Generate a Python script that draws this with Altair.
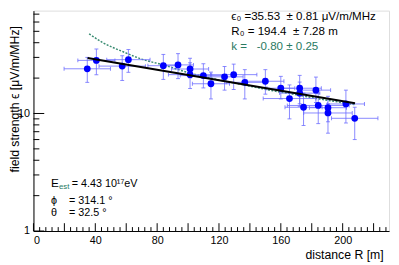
import altair as alt
import pandas as pd

# ---- data ----
R_m = [34.8, 40.7, 57.4, 61.4, 84.0, 93.5, 101.3, 101.3, 109.9, 114.8,
       123.6, 129.5, 136.7, 150.0, 160.0, 165.6, 172.2, 172.2, 174.7, 182.7,
       184.2, 190.5, 190.5, 202.1, 207.8]
eps = [24.0, 28.3, 25.3, 28.7, 25.5, 25.9, 23.9, 21.4, 21.0, 17.9,
       20.5, 21.4, 18.4, 18.8, 16.4, 13.4, 16.4, 14.9, 11.3, 15.8,
       11.7, 11.2, 10.1, 12.05, 9.1]
R_err = [15, 12, 15, 14, 10, 10, 12, 14, 15, 12,
         12, 15, 12, 12, 9, 17, 14, 13, 12, 9.5,
         20, 12, 15.7, 12, 15]
eps_lo = [18.4, 21.4, 19.1, 22.4, 19.5, 19.8, 20.1, 16.3, 16.5, 13.3,
          15.8, 16.0, 13.3, 14.6, 13.3, 9.0, 12.1, 11.5, 7.9, 12.4,
          8.2, 8.5, 6.8, 8.3, 6.0]
eps_hi = [30.0, 35.3, 31.0, 35.0, 31.8, 32.3, 29.5, 27.0, 26.5, 22.5,
          25.1, 26.3, 23.6, 23.6, 20.7, 17.5, 21.1, 18.5, 14.9, 20.4,
          14.9, 14.0, 12.1, 15.8, 11.3]

fit_R = [35, 208]
fit_eps = [29.7, 12.2]

pow_R = [36, 45, 58, 70, 84, 101, 120, 137, 155, 168, 185, 208]
pow_eps = [47.6, 40.0, 33.5, 29.0, 25.9, 22.1, 19.3, 17.4, 15.6, 14.6, 13.3, 11.9]

x_major = list(range(0, 221, 20))
x_minor = [v for v in range(0, 231, 4) if v % 20 != 0]
y_major = [1, 10]
y_minor = [2, 3, 4, 5, 6, 7, 8, 9, 20, 30, 40, 50, 60, 70]

NB = "\u00a0"
txt_eps0 = "ϵ₀ =35.53" + NB * 2 + "± 0.81 μV/m/MHz"
txt_R0 = "R₀ = 194.4" + NB * 2 + "± 7.28 m"
txt_k = "k =" + NB * 3 + "-0.80 ± 0.25"
txt_E = "E"
txt_est = "est"
txt_Eval = "= 4.43 10¹⁷eV"
txt_phi = "ϕ" + NB * 4 + "= " + "314.1 °"
txt_theta = "θ" + NB * 4 + "= " + "32.5 °"

# ---- layout ----
W, H = 363, 225
FONT = "Liberation Sans"
BLUE = "#0000ff"
EBAR = "#6a6aff"
GREEN = "#2a7a62"

df = pd.DataFrame({"R": R_m, "eps": eps, "Rerr": R_err, "lo": eps_lo, "hi": eps_hi})
df["Rlo"] = df["R"] - df["Rerr"]
df["Rhi"] = df["R"] + df["Rerr"]

xs = alt.Scale(domain=[0, 230], nice=False, zero=False)
ys = alt.Scale(type="log", domain=[1, 75], nice=False)

xaxis = alt.Axis(values=x_major, format="d", ticks=False, tickSize=0, grid=False,
                 labelFontSize=11, labelPadding=4, labelFont=FONT,
                 domainColor="black", domainWidth=1,
                 title="distance R [m]", titleFont=FONT, titleFontSize=12.5,
                 titleFontWeight="normal", titleAnchor="end", titleAlign="right",
                 titleX=357, titleY=28, titleBaseline="alphabetic")
yaxis = alt.Axis(values=y_major, format="d", ticks=False, tickSize=0, grid=False,
                 labelFontSize=11, labelPadding=4, labelFont=FONT,
                 domainColor="black", domainWidth=1,
                 title="field strength ϵ [μV/m/MHz]", titleFont=FONT, titleFontSize=12.5,
                 titleFontWeight="normal", titleX=-12, titleY=90,
                 titleAlign="center", titleBaseline="bottom", titleAngle=-90)

base = alt.Chart(df)

axes_layer = base.mark_point(opacity=0).encode(
    x=alt.X("R:Q", scale=xs, axis=xaxis),
    y=alt.Y("eps:Q", scale=ys, axis=yaxis),
)

xbar = base.mark_rule(color=EBAR, strokeWidth=1, opacity=0.8).encode(
    x="Rlo:Q", x2="Rhi:Q", y="eps:Q")
ybar = base.mark_rule(color=EBAR, strokeWidth=1, opacity=0.8).encode(
    x="R:Q", y="lo:Q", y2="hi:Q")
capL = base.mark_tick(orient="vertical", color=EBAR, size=4, thickness=1, opacity=0.8).encode(
    x="Rlo:Q", y="eps:Q")
capR = base.mark_tick(orient="vertical", color=EBAR, size=4, thickness=1, opacity=0.8).encode(
    x="Rhi:Q", y="eps:Q")
capB = base.mark_tick(orient="horizontal", color=EBAR, size=4, thickness=1, opacity=0.8).encode(
    x="R:Q", y="lo:Q")
capT = base.mark_tick(orient="horizontal", color=EBAR, size=4, thickness=1, opacity=0.8).encode(
    x="R:Q", y="hi:Q")
pts = base.mark_circle(color=BLUE, size=48, opacity=1).encode(x="R:Q", y="eps:Q")

fit = alt.Chart(pd.DataFrame({"R": fit_R, "eps": fit_eps})).mark_line(
    color="black", strokeWidth=2).encode(x="R:Q", y="eps:Q")
pw = alt.Chart(pd.DataFrame({"R": pow_R, "eps": pow_eps})).mark_line(
    color="#3a8c72", strokeWidth=1.5, strokeDash=[2, 1.5], interpolate="monotone").encode(
    x="R:Q", y="eps:Q")

xt_major = alt.Chart(pd.DataFrame({"v": x_major})).mark_rule(color="black", strokeWidth=1).encode(
    x="v:Q", y=alt.value(H), y2=alt.value(H - 8))
xt_minor = alt.Chart(pd.DataFrame({"v": x_minor})).mark_rule(color="black", strokeWidth=1).encode(
    x="v:Q", y=alt.value(H), y2=alt.value(H - 4))
yt_major = alt.Chart(pd.DataFrame({"v": y_major})).mark_rule(color="black", strokeWidth=1).encode(
    y="v:Q", x=alt.value(0), x2=alt.value(11))
yt_minor = alt.Chart(pd.DataFrame({"v": y_minor})).mark_rule(color="black", strokeWidth=1).encode(
    y="v:Q", x=alt.value(0), x2=alt.value(6))


def label(s, x, y, size=11, color="black", align="left"):
    return alt.Chart(pd.DataFrame({"t": [s]})).mark_text(
        font=FONT, fontSize=size, color=color, align=align, baseline="alphabetic").encode(
        x=alt.value(x), y=alt.value(y), text="t:N")


texts = [
    label(txt_eps0, 202, 10, size=11.8),
    label(txt_R0, 202, 25, size=11.8),
    label(txt_k, 202, 40, size=11.8, color=GREEN),
    label(txt_E, 18, 180, size=12),
    label(txt_est, 26, 182, size=8, color=GREEN),
    label(txt_Eval, 39, 180),
    label(txt_phi, 18, 197),
    label(txt_theta, 18, 210),
]

chart = alt.layer(
    axes_layer, pw, xbar, ybar, capL, capR, capB, capT, pts, fit,
    xt_major, xt_minor, yt_major, yt_minor, *texts
).properties(
    width=W, height=H,
    autosize=alt.AutoSizeParams(type="none"),
    padding={"left": 26, "top": 0, "right": 2, "bottom": 32},
).configure_view(stroke="black", strokeWidth=1.5).configure(background="white")

chart.save("out.html", embed_options={"renderer": "svg", "actions": False})
